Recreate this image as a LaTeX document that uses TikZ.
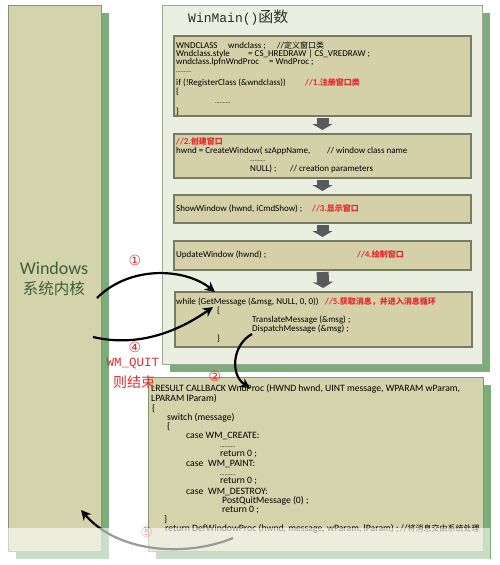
\documentclass[tikz,border=0pt]{standalone}
\usepackage{fontspec}
\setmainfont{Carlito}
\newfontfamily\codefont{Carlito}
\newfontfamily\cjk{Noto Sans CJK SC}
\newfontfamily\monofont{Liberation Mono}
\newfontfamily\symfont{DejaVu Sans}
\usetikzlibrary{arrows.meta,shadows}

\definecolor{kernelfill}{RGB}{211,212,171}
\definecolor{kernelline}{RGB}{140,146,120}
\definecolor{shadowgreen}{RGB}{122,173,122}
\definecolor{winfill}{RGB}{235,239,225}
\definecolor{winline}{RGB}{160,168,148}
\definecolor{boxfill}{RGB}{212,209,168}
\definecolor{boxline}{RGB}{120,124,98}
\definecolor{kerneltext}{RGB}{62,94,62}
\definecolor{commentred}{RGB}{232,38,43}
\definecolor{labelred}{RGB}{222,45,45}
\definecolor{arrowgray}{RGB}{90,90,90}

\newcommand\zh[1]{{\cjk\fontsize{8}{8}\selectfont #1}}
\newcommand\dotrow{{\fontsize{6}{6}\selectfont ..........}}

\begin{document}
\begin{tikzpicture}[x=1pt, y=-1pt,
  panel/.style={draw=kernelline, fill=kernelfill, line width=1pt, inner sep=0, outer sep=0,
    drop shadow={shadow xshift=8pt, shadow yshift=-8pt, fill=shadowgreen, opacity=1}},
  winpanel/.style={panel, draw=winline, fill=winfill},
  codebox/.style={draw=boxline, fill=boxfill, line width=1.2pt, inner sep=0, outer sep=0, minimum width=297pt},
  code/.style={anchor=west, inner sep=0, text height=6.5pt, text depth=2pt,
    font=\codefont\fontsize{9}{9}\selectfont},
  note/.style={code, text=commentred, font=\codefont\bfseries\fontsize{9}{9}\selectfont},
  proccode/.style={code, font=\codefont\fontsize{9.7}{9.7}\selectfont},
  stepdown/.style={draw=arrowgray, line width=12pt, -{Triangle[length=6pt 0, width=20pt 0]},
    shorten <=2pt, shorten >=4pt},
  flow/.style={line width=2.2pt, -{Stealth[length=10pt 0, width=10pt 0]}},
  numlabel/.style={inner sep=0, text=labelred, font=\symfont\fontsize{14}{14}\selectfont},
]
\useasboundingbox (0,0) rectangle (500,565);

% panels
\node[panel, minimum width=93pt, minimum height=546pt] (kernel) at (54.5,278) {};
\node[winpanel, minimum width=320pt, minimum height=359pt] (winmain) at (322,184.5) {};
\node[panel, minimum width=335pt, minimum height=174pt] (wndproc) at (315.5,464) {};

% WinMain steps
\node[codebox, minimum height=80pt] (regbox) at (322.5,76) {};
\node[codebox, minimum height=44pt] (createbox) at (322.5,156) {};
\node[codebox, minimum height=28pt] (showbox) at (322.5,209) {};
\node[codebox, minimum height=29pt] (updatebox) at (322.5,255.5) {};
\node[codebox, minimum height=55pt] (loopbox) at (323.5,319.5) {};

\draw[stepdown] (regbox.south) -- (createbox.north);
\draw[stepdown] (createbox.south) -- (showbox.north);
\draw[stepdown] (showbox.south) -- (updatebox.north);
\draw[stepdown] (updatebox.south) -- (loopbox.north);

% titles
\node[anchor=west, inner sep=0, text={rgb,255:red,45;green,45;blue,45}] (title) at (188,18)
  {\monofont\fontsize{13}{13}\selectfont WinMain()\cjk\fontsize{15}{15}\selectfont 函数};
\node[inner sep=0, text=kerneltext, font=\codefont\fontsize{18}{18}\selectfont] (kname) at (54,268) {Windows};
\node[inner sep=0, text=kerneltext, font=\cjk\fontsize{15.5}{15.5}\selectfont] (kzh) at (54,289) {系统内核};

% register class
\node[code] (reg1) at (176,46) {WNDCLASS};
\node[code] (reg1b) at (228,46) {wndclass ;};
\node[code] (reg1c) at (277,46) {//\zh{定义窗口类}};
\node[code] (reg2) at (176,54) {Wndclass.style};
\node[code] (reg2b) at (248,54) {= CS\_HREDRAW | CS\_VREDRAW ;};
\node[code] (reg3) at (176,62) {wndclass.lpfnWndProc};
\node[code] (reg3b) at (269,62) {= WndProc ;};
\node[code] (reg4) at (176,70) {\dotrow};
\node[code] (reg5) at (176,83) {if (!RegisterClass (\&wndclass))};
\node[note] (reg5b) at (305,83) {//1.\zh{注册窗口类}};
\node[code] (reg6) at (176,92) {\{};
\node[code] (reg7) at (215,101) {\dotrow};
\node[code] (reg8) at (176,112) {\}};

% create window
\node[note] (cre1) at (176,142) {//2.\zh{创建窗口}};
\node[code] (cre2) at (176,151) {hwnd = CreateWindow( szAppName,};
\node[code] (cre2b) at (327,151) {// window class name};
\node[code] (cre3) at (250,159) {\dotrow};
\node[code] (cre4) at (250,169) {NULL) ;};
\node[code] (cre4b) at (290,169) {// creation parameters};

% show / update
\node[code] (show1) at (176,209) {ShowWindow (hwnd, iCmdShow) ;};
\node[note] (show1b) at (312,209) {//3.\zh{显示窗口}};
\node[code] (upd1) at (176,255.5) {UpdateWindow (hwnd) ;};
\node[note] (upd1b) at (357,255.5) {//4.\zh{绘制窗口}};

% message loop
\node[code] (loop1) at (176,302) {while (GetMessage (\&msg, NULL, 0, 0))};
\node[note] (loop1b) at (325,302) {//5.\zh{获取消息，并进入消息循环}};
\node[code] (loop2) at (217,311) {\{};
\node[code] (loop3) at (252,320) {TranslateMessage (\&msg) ;};
\node[code] (loop4) at (252,329) {DispatchMessage (\&msg) ;};
\node[code] (loop5) at (217,339) {\}};

% window procedure
\node[proccode] (proc1) at (151,389) {LRESULT CALLBACK WndProc (HWND hwnd, UINT message, WPARAM wParam,};
\node[proccode] (proc2) at (151,399) {LPARAM lParam)};
\node[proccode] (proc3) at (152,409) {\{};
\node[proccode] (proc4) at (167,418) {switch (message)};
\node[proccode] (proc5) at (167,427) {\{};
\node[proccode] (proc6) at (186,436) {case WM\_CREATE:};
\node[proccode] (proc7) at (220,445) {\dotrow};
\node[proccode] (proc8) at (220,454) {return 0 ;};
\node[proccode] (proc9) at (186,464) {case};
\node[proccode] (proc9b) at (208,464) {WM\_PAINT:};
\node[proccode] (proc10) at (220,473) {\dotrow};
\node[proccode] (proc11) at (220,481) {return 0 ;};
\node[proccode] (proc12) at (186,492) {case};
\node[proccode] (proc12b) at (208,492) {WM\_DESTROY:};
\node[proccode] (proc13) at (222,501) {PostQuitMessage (0) ;};
\node[proccode] (proc14) at (222,510) {return 0 ;};
\node[proccode] (proc15) at (164,520) {\}};
\node[proccode] (proc16) at (165,529) {return DefWindowProc (hwnd, message, wParam, lParam) ;};
\node[proccode] (proc16b) at (400,529) {//\zh{将消息交由系统处理}};

% message flow
\coordinate (k1) at (97,298);
\coordinate (g1) at (215,292);
\coordinate (k4) at (93,337);
\coordinate (g4) at (213,307);
\coordinate (disp) at (252,334);
\coordinate (proc) at (250,388);
\coordinate (defw) at (233,538);
\coordinate (k5) at (81,510);

\draw[flow] (k1) .. controls (130,265) and (185,268) .. (g1);
\draw[flow] (k4) .. controls (140,348) and (180,330) .. (g4);
\draw[flow] (disp) .. controls (232,345) and (230,375) .. (proc);
\draw[flow] (defw) .. controls (190,556) and (120,555) .. (k5);

\node[numlabel] (n1) at (135,260) {①};
\node[numlabel] (n4) at (135,347) {④};
\node[inner sep=0, text=labelred, font=\monofont\fontsize{12.5}{12.5}\selectfont] (quit) at (133,363) {WM\_QUIT};
\node[inner sep=0, text=labelred, font=\cjk\fontsize{14}{14}\selectfont] (quitzh) at (134,382) {则结束};
\node[numlabel] (n2) at (215,376) {②};
\node[numlabel] (n5) at (147,532) {⑤};

% faded strip at the bottom
\fill[white, opacity=.6] (0,528) rectangle (490,560);
\end{tikzpicture}
\end{document}
